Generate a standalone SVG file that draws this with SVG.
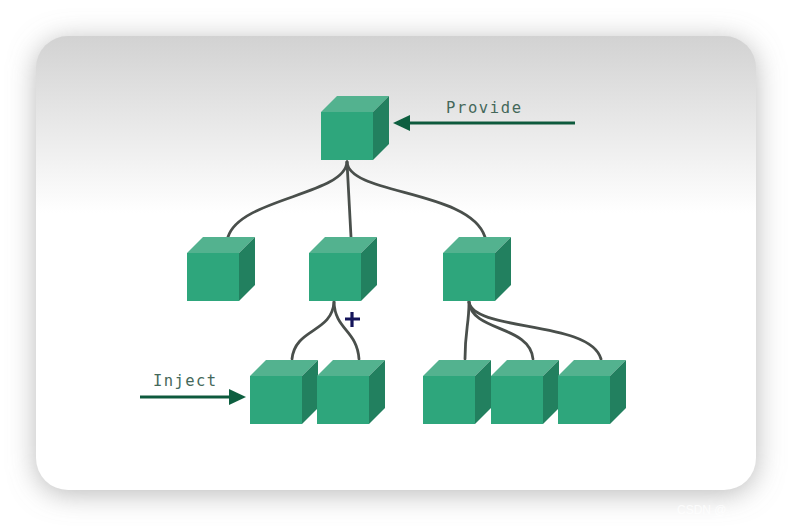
<svg xmlns="http://www.w3.org/2000/svg" width="792" height="526" viewBox="0 0 792 526">
  <style>
    .front { fill: #2fa67c; }
    .top { fill: #52b28f; }
    .side { fill: #24805f; }
    .edge { fill: none; stroke: #4a4f4c; stroke-width: 2.8; stroke-linecap: round; }
    .pointer { fill: none; stroke: #0f5a3c; stroke-width: 3.2; }
    .head { fill: #0f5f3f; }
    .label { font-family: "DejaVu Sans Mono", "Liberation Mono", monospace; font-size: 15.5px; fill: #44685a; }
  </style>
  <defs>
    <linearGradient id="cardFill" x1="0" y1="0" x2="0" y2="1">
      <stop offset="0" stop-color="#d2d2d2"/>
      <stop offset="0.2" stop-color="#e9e9e9"/>
      <stop offset="0.39" stop-color="#ffffff"/>
      <stop offset="1" stop-color="#ffffff"/>
    </linearGradient>
    <filter id="cardShadow" x="-15%" y="-15%" width="130%" height="130%">
      <feGaussianBlur stdDeviation="14"/>
    </filter>
    <filter id="soften" x="-5%" y="-5%" width="110%" height="110%">
      <feGaussianBlur stdDeviation="0.6"/>
    </filter>
    <g id="cube">
      <polygon class="front" points="0,0 52,0 52,48 0,48"/>
      <polygon class="top" points="0,0 16,-16 68,-16 52,0"/>
      <polygon class="side" points="52,0 68,-16 68,32 52,48"/>
    </g>
  </defs>

  <rect width="792" height="526" fill="#ffffff"/>
  <rect x="36" y="40" width="720" height="454" rx="32" fill="#8c8c8c" fill-opacity="0.6" filter="url(#cardShadow)"/>
  <rect x="36" y="36" width="720" height="454" rx="32" fill="url(#cardFill)"/>

  <g id="connectors" filter="url(#soften)">
    <path class="edge" d="M347,162 C345,195 240,198 228,237"/>
    <path class="edge" d="M347,162 L351,237"/>
    <path class="edge" d="M347,162 C349,195 470,190 485,237"/>
    <path class="edge" d="M334,302 C332,333 295,328 292,359"/>
    <path class="edge" d="M334,302 C335,330 357,330 359,359"/>
    <path class="edge" d="M469,302 C469,325 465,330 465,359"/>
    <path class="edge" d="M469,302 C472,332 530,325 533,359"/>
    <path class="edge" d="M469,302 C474,332 590,320 601,359"/>
    <path class="pointer" d="M406,123 H575"/>
    <polygon class="head" points="393,123 410,115 410,131"/>
    <path class="pointer" d="M140,397 H232"/>
    <polygon class="head" points="246,397 229,389 229,405"/>
  </g>

  <g id="node-root" filter="url(#soften)"><use href="#cube" x="321" y="112"/></g>
  <g id="node-left" filter="url(#soften)"><use href="#cube" x="187" y="253"/></g>
  <g id="node-middle" filter="url(#soften)"><use href="#cube" x="309" y="253"/></g>
  <g id="node-right" filter="url(#soften)"><use href="#cube" x="443" y="253"/></g>
  <g id="node-leaf-1" filter="url(#soften)"><use href="#cube" x="250" y="376"/></g>
  <g id="node-leaf-2" filter="url(#soften)"><use href="#cube" x="317" y="376"/></g>
  <g id="node-leaf-3" filter="url(#soften)"><use href="#cube" x="423" y="376"/></g>
  <g id="node-leaf-4" filter="url(#soften)"><use href="#cube" x="491" y="376"/></g>
  <g id="node-leaf-5" filter="url(#soften)"><use href="#cube" x="558" y="376"/></g>

  <text class="label" x="446" y="113" textLength="75">Provide</text>
  <text class="label" x="153" y="386" textLength="63">Inject</text>
  <path d="M345,319 H360 M352,312 V327" fill="none" stroke="#14145a" stroke-width="3.2"/>
  <text x="677" y="514" font-family="'Liberation Sans', 'Noto Sans CJK SC', sans-serif" font-size="12" fill="#ffffff" fill-opacity="0.75">CSDN @</text>
</svg>
